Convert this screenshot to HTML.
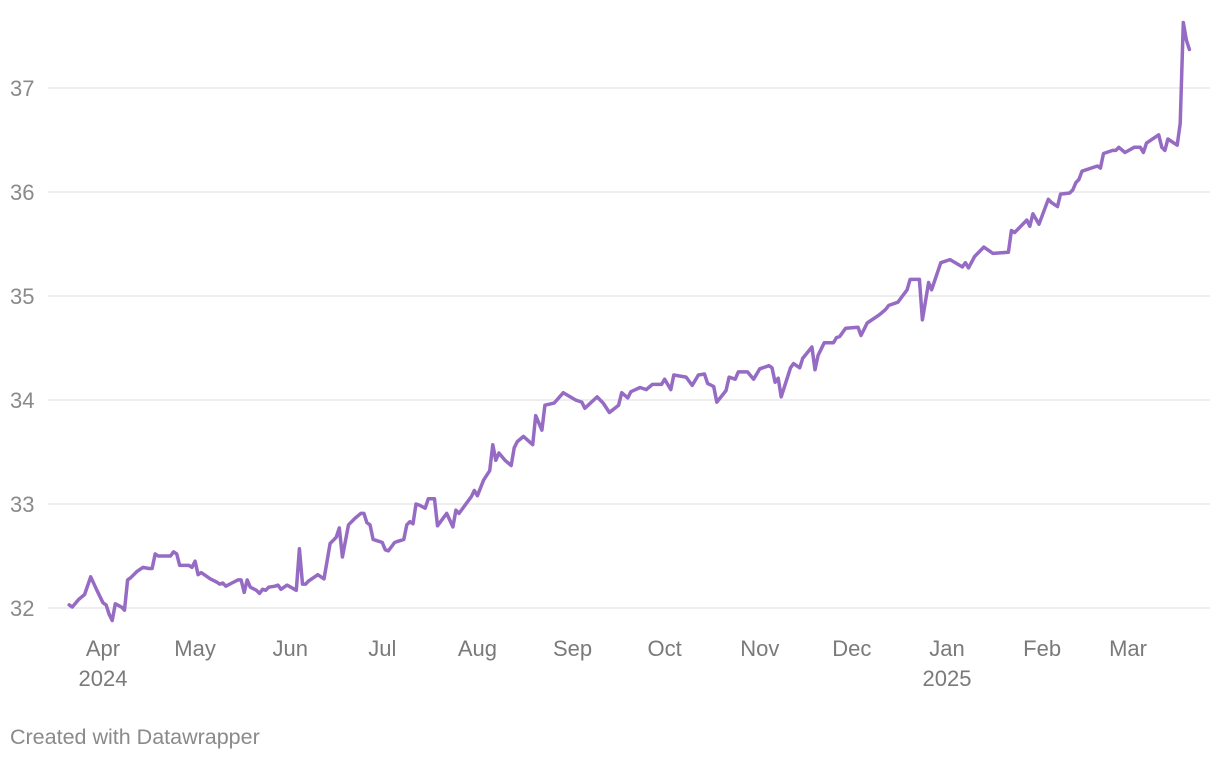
<!DOCTYPE html>
<html><head><meta charset="utf-8"><style>
body{margin:0;background:#fff;width:1220px;height:760px;overflow:hidden;font-family:"Liberation Sans",Arial,sans-serif}
svg text{font-family:"Liberation Sans",Arial,sans-serif}
</style></head><body>
<svg id="chart" width="1220" height="760" xmlns="http://www.w3.org/2000/svg">
<g id="grid"></g>
<g id="yaxis"></g>
<g id="xaxis"></g>
<path id="line" fill="none" stroke="#966bc3" stroke-width="3.5" stroke-linejoin="round" stroke-linecap="round"/>
<text x="10" y="744" font-size="21.5" fill="#8a8a8a">Created with Datawrapper</text>
</svg>
<script>
// days since 2024-03-20
const days=[1,2,4,6,8,10,12,13,14,15,16,18,19,20,21,23,25,27,28,29,30,32,34,35,36,37,39,40,41,42,43,44,47,49,50,51,52,54,56,57,58,59,60,62,63,64,65,66,68,69,70,72,75,76,77,78,79,81,82,84,86,88,89,90,92,94,96,97,98,99,100,102,103,104,105,107,108,110,111,112,113,114,115,117,118,120,121,124,126,127,128,132,133,134,136,138,139,140,141,143,145,146,147,149,152,153,155,156,159,162,166,168,169,173,175,177,180,181,183,184,187,189,191,194,195,197,198,202,204,206,208,209,211,212,215,216,218,219,222,224,226,229,230,231,232,233,236,237,239,240,243,244,245,247,250,251,252,254,258,259,261,265,267,268,271,272,274,275,278,279,281,282,285,288,292,293,294,296,299,302,307,308,309,313,314,315,317,320,321,323,324,327,328,329,330,331,336,337,338,341,342,343,345,348,350,351,352,356,357,358,359,362,363,364,365,366];
const values=[32.03,32.01,32.08,32.13,32.30,32.17,32.05,32.03,31.94,31.88,32.04,32.01,31.98,32.27,32.29,32.35,32.39,32.38,32.38,32.52,32.50,32.50,32.50,32.54,32.52,32.41,32.41,32.41,32.39,32.45,32.32,32.34,32.28,32.25,32.23,32.24,32.21,32.24,32.27,32.27,32.15,32.27,32.20,32.17,32.14,32.18,32.17,32.20,32.21,32.22,32.18,32.22,32.17,32.57,32.23,32.23,32.26,32.30,32.32,32.28,32.62,32.68,32.77,32.49,32.80,32.86,32.91,32.91,32.82,32.80,32.66,32.64,32.63,32.56,32.55,32.63,32.64,32.66,32.80,32.83,32.81,33.00,32.99,32.96,33.05,33.05,32.79,32.91,32.78,32.94,32.91,33.07,33.13,33.08,33.23,33.32,33.57,33.42,33.49,33.42,33.37,33.54,33.60,33.65,33.57,33.85,33.71,33.95,33.97,34.07,34.00,33.98,33.92,34.03,33.97,33.88,33.95,34.07,34.02,34.08,34.12,34.10,34.15,34.15,34.20,34.10,34.24,34.22,34.14,34.24,34.25,34.16,34.13,33.98,34.09,34.22,34.20,34.27,34.27,34.20,34.30,34.33,34.31,34.17,34.21,34.03,34.31,34.35,34.31,34.40,34.51,34.29,34.43,34.55,34.55,34.60,34.61,34.69,34.70,34.62,34.74,34.82,34.87,34.91,34.94,34.98,35.06,35.16,35.16,34.77,35.13,35.06,35.32,35.35,35.28,35.32,35.27,35.38,35.47,35.41,35.42,35.63,35.61,35.73,35.67,35.79,35.69,35.93,35.90,35.86,35.98,35.99,36.02,36.09,36.12,36.20,36.25,36.23,36.37,36.40,36.40,36.43,36.38,36.43,36.43,36.38,36.47,36.55,36.43,36.40,36.51,36.45,36.66,37.63,37.46,37.37];
const yTicks=[32,33,34,35,36,37];
const monthLabels=["Apr","May","Jun","Jul","Aug","Sep","Oct","Nov","Dec","Jan","Feb","Mar"];
const monthStartDays=[12,42,73,103,134,165,195,226,256,287,318,346];
const yearLabels={"Apr":"2024","Jan":"2025"};

const NS="http://www.w3.org/2000/svg";
const x=d=>103+(d-12)*3.069;
const y=v=>608-(v-32)*104;
const grid=document.getElementById('grid'),ya=document.getElementById('yaxis'),xa=document.getElementById('xaxis');
yTicks.forEach(t=>{
  const l=document.createElementNS(NS,'line');
  
  
  l.setAttribute('x1',48);l.setAttribute('x2',1210);l.setAttribute('y1',y(t));l.setAttribute('y2',y(t));
  l.setAttribute('stroke','#e3e3e3');l.setAttribute('stroke-width','1.3');
  grid.appendChild(l);
  const tx=document.createElementNS(NS,'text');
  
  
  tx.setAttribute('x',10);tx.setAttribute('y',y(t)+8);tx.setAttribute('font-size','22');tx.setAttribute('fill','#8a8a8a');
  tx.textContent=t;ya.appendChild(tx);
});
monthLabels.forEach((m,i)=>{
  const tx=document.createElementNS(NS,'text');
  
  
  tx.setAttribute('x',x(monthStartDays[i]));tx.setAttribute('y',656);tx.setAttribute('font-size','22');
  tx.setAttribute('fill','#7a7a7a');tx.setAttribute('text-anchor','middle');
  tx.textContent=m;xa.appendChild(tx);
  if(yearLabels[m]){
    const yr=document.createElementNS(NS,'text');
    
    
    yr.setAttribute('x',x(monthStartDays[i]));yr.setAttribute('y',686);yr.setAttribute('font-size','22');
    yr.setAttribute('fill','#7a7a7a');yr.setAttribute('text-anchor','middle');
    yr.textContent=yearLabels[m];xa.appendChild(yr);
  }
});
document.getElementById('line').setAttribute('d',days.map((d,i)=>(i?'L':'M')+x(d).toFixed(1)+','+y(values[i]).toFixed(1)).join(''));
</script>
</body></html>
